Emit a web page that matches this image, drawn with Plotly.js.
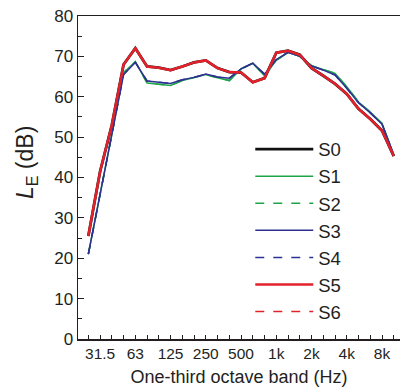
<!DOCTYPE html>
<html>
<head>
<meta charset="utf-8">
<script src="https://cdn.plot.ly/plotly-3.0.1.min.js"></script>
<style>html,body{margin:0;padding:0;background:#fff;}#chart{width:400px;height:391px;}</style>
</head>
<body>
<div id="chart"></div>
<script>
// One-third octave band centre frequencies (Hz)
const bands = ['25','31.5','40','50','63','80','100','125','160','200','250','315','400','500','630','800','1k','1.25k','1.6k','2k','2.5k','3.15k','4k','5k','6.3k','8k','10k'];
// Which bands carry a tick label
const labelledBands = ['31.5','63','125','250','500','1k','2k','4k','8k'];

// L_E (dB) per band
const S0 = [25.5, 41.5, 53, 68, 72, 67.5, 67.2, 66.6, 67.5, 68.5, 69.0, 67.1, 66.1, 66.0, 63.6, 64.6, 70.9, 71.4, 70.4, 67.1, 65.2, 63.2, 60.7, 57.0, 54.5, 51.6, 45.3];
const S1 = [21, 35.6, 50.6, 66, 68.7, 63.4, 63.1, 62.8, 64.0, 64.8, 65.5, 64.7, 64.0, 66.9, 68.3, 65.2, 69.0, 71.0, 70.0, 67.7, 66.8, 65.8, 62.5, 58.7, 56.2, 53.4, 45.6];
const S2 = [21, 35.6, 50.6, 66, 68.7, 63.4, 63.1, 62.8, 64.0, 64.8, 65.5, 64.7, 64.0, 66.9, 68.3, 65.2, 69.0, 71.0, 70.0, 67.7, 66.8, 65.8, 62.5, 58.7, 56.2, 53.4, 45.6];
const S3 = [21, 36, 51, 65.5, 68.5, 63.9, 63.6, 63.3, 64.2, 64.8, 65.6, 64.9, 64.6, 66.9, 68.3, 65.6, 69.2, 71.0, 70.0, 67.6, 66.6, 65.4, 62.1, 58.5, 56.0, 53.2, 45.6];
const S4 = [21, 36, 51, 65.5, 68.5, 63.9, 63.6, 63.3, 64.2, 64.8, 65.6, 64.9, 64.6, 66.9, 68.3, 65.6, 69.2, 71.0, 70.0, 67.6, 66.6, 65.4, 62.1, 58.5, 56.0, 53.2, 45.6];
const S5 = [25.5, 41.5, 53, 68, 72, 67.5, 67.2, 66.6, 67.5, 68.5, 69.0, 67.1, 66.1, 66.0, 63.6, 64.6, 70.9, 71.4, 70.4, 67.1, 65.2, 63.2, 60.7, 57.0, 54.5, 51.6, 45.3];
const S6 = [25.5, 41.5, 53, 68, 72, 67.5, 67.2, 66.6, 67.5, 68.5, 69.0, 67.1, 66.1, 66.0, 63.6, 64.6, 70.9, 71.4, 70.4, 67.1, 65.2, 63.2, 60.7, 57.0, 54.5, 51.6, 45.3];

const seriesNames = ['S0','S1','S2','S3','S4','S5','S6'];
const seriesData = [S0, S1, S2, S3, S4, S5, S6];
const seriesStyle = [
  {color:'#111111', width:2.8, dash:'solid'},
  {color:'#1ea54a', width:1.5, dash:'solid'},
  {color:'#1ea54a', width:1.5, dash:'dash'},
  {color:'#2e3192', width:1.5, dash:'solid'},
  {color:'#2e3192', width:1.5, dash:'dash'},
  {color:'#e3212b', width:2.5, dash:'solid'},
  {color:'#e3212b', width:1.5, dash:'dash'}
];

const traces = seriesNames.map((n, k) => ({
  type: 'scatter', mode: 'lines', name: n,
  x: bands, y: seriesData[k],
  line: {color: seriesStyle[k].color, width: seriesStyle[k].width, dash: seriesStyle[k].dash}
}));

const ink = '#231f20';
const layout = {
  width: 400, height: 391,
  margin: {l: 78, r: 0, t: 16, b: 52},
  paper_bgcolor: '#fff', plot_bgcolor: '#fff',
  font: {family: 'Liberation Sans, Arial, sans-serif', color: ink},
  showlegend: true,
  legend: {
    x: 0.535, y: 0.645, xanchor: 'left', yanchor: 'top',
    bgcolor: 'rgba(0,0,0,0)', borderwidth: 0,
    itemwidth: 58, font: {size: 18.5, color: ink}, tracegroupgap: 0
  },
  xaxis: {
    type: 'category', categoryorder: 'array', categoryarray: bands,
    range: [-0.88, 26.53],
    tickmode: 'array', tickvals: bands,
    ticktext: bands.map(b => labelledBands.includes(b) ? b : ''),
    tickangle: 0,
    ticks: 'inside', ticklen: 4, tickwidth: 1, tickcolor: ink,
    showline: true, linecolor: ink, linewidth: 1.5, mirror: true,
    showgrid: false, zeroline: false,
    tickfont: {size: 15.5, color: ink},
    title: {text: 'One-third octave band (Hz)', font: {size: 18, color: ink}, standoff: 9}
  },
  yaxis: {
    range: [0, 80], dtick: 10, tick0: 0,
    ticks: 'inside', ticklen: 6, tickwidth: 1, tickcolor: ink,
    minor: {dtick: 5, ticks: 'inside', ticklen: 4, tickcolor: ink, showgrid: false},
    showline: true, linecolor: ink, linewidth: 1.5, mirror: false,
    showgrid: false, zeroline: false,
    tickfont: {size: 17, color: ink}
  },
  annotations: [{
    text: '<i>L</i><sub>E</sub> (dB)', textangle: -90,
    xref: 'paper', yref: 'paper', x: -0.158, y: 0.545,
    xanchor: 'center', yanchor: 'middle', showarrow: false,
    font: {size: 23, color: ink}
  }]
};

Plotly.newPlot('chart', traces, layout, {displayModeBar: false, staticPlot: true});
</script>
</body>
</html>
